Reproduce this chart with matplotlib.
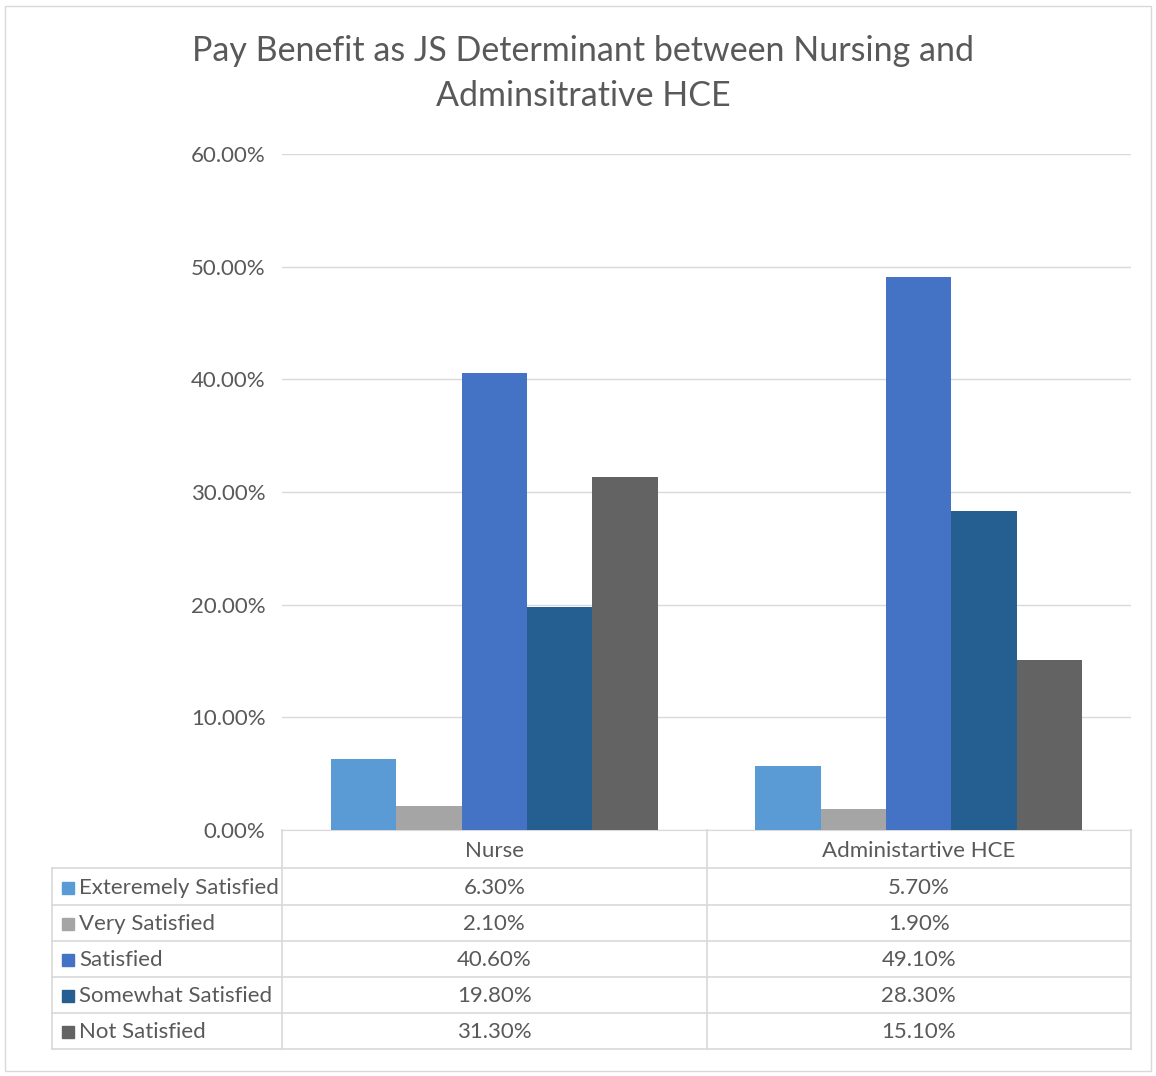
import matplotlib.pyplot as plt
import numpy as np
from matplotlib.patches import Rectangle
from matplotlib.lines import Line2D

plt.rcParams['font.family'] = ['Lato', 'DejaVu Sans']

categories = ['Nurse', 'Administartive HCE']
series = ['Exteremely Satisfied', 'Very Satisfied', 'Satisfied',
          'Somewhat Satisfied', 'Not Satisfied']
values = [
    [6.3, 5.7],
    [2.1, 1.9],
    [40.6, 49.1],
    [19.8, 28.3],
    [31.3, 15.1],
]
colors = ['#5B9BD5', '#A5A5A5', '#4472C4', '#255E91', '#636363']
yticks = [0, 10, 20, 30, 40, 50, 60]

W, H = 1156, 1076
text_color = '#595959'
grid_color = '#D9D9D9'

fig = plt.figure(figsize=(W / 100, H / 100), dpi=100)

# outer chart border
fig.add_artist(Rectangle((5 / W, 1 - 1071 / H), 1146 / W, 1065 / H,
                         transform=fig.transFigure, fill=False,
                         edgecolor=grid_color, lw=1))

# plot area in pixel bounds
left, right, top, bottom = 282, 1131, 154, 830
ax = fig.add_axes([left / W, 1 - bottom / H, (right - left) / W, (bottom - top) / H])

n = len(series)
gap = 1.5
bw = 1 / (n + gap)
x = np.arange(len(categories))
for i, (name, vals) in enumerate(zip(series, values)):
    offs = (i - (n - 1) / 2) * bw
    ax.bar(x + offs, vals, width=bw, color=colors[i], zorder=3)

ax.set_xlim(-0.5, len(categories) - 0.5)
ax.set_ylim(0, 60)
ax.set_yticks(yticks)
ax.set_yticklabels([f'{t:.2f}%' for t in yticks], fontsize=16, color=text_color)
ax.set_xticks([])
ax.tick_params(axis='y', length=0, pad=12)
ax.grid(axis='y', color=grid_color, lw=1, zorder=0)
for s in ['top', 'right', 'left']:
    ax.spines[s].set_visible(False)
ax.spines['bottom'].set_color(grid_color)

fig.text(583 / W, 1 - 51 / H, 'Pay Benefit as JS Determinant between Nursing and',
         ha='center', va='center', fontsize=24.5, color=text_color)
fig.text(583 / W, 1 - 96 / H, 'Adminsitrative HCE',
         ha='center', va='center', fontsize=24.5, color=text_color)

# data table below the plot
tab_left, tab_bottom = 52, 1049
tax = fig.add_axes([tab_left / W, 1 - tab_bottom / H, (right - tab_left) / W, (tab_bottom - bottom) / H])
tax.set_xlim(tab_left, right)
tax.set_ylim(tab_bottom, bottom)
tax.axis('off')

mid = (left + right) / 2
col_edges = [left, mid, right]
row_edges = [bottom, 868, 905, 941, 977, 1013, tab_bottom]

kw = dict(color=grid_color, lw=1.2, clip_on=False)
for xe in col_edges:
    tax.add_line(Line2D([xe, xe], [bottom, tab_bottom], **kw))
tax.add_line(Line2D([tab_left, tab_left], [row_edges[1], tab_bottom], **kw))
for ye in row_edges[1:]:
    tax.add_line(Line2D([tab_left, right], [ye, ye], **kw))

for j, cat in enumerate(categories):
    cx = (col_edges[j] + col_edges[j + 1]) / 2
    tax.text(cx, (row_edges[0] + row_edges[1]) / 2 + 2, cat, ha='center', va='center',
             fontsize=16, color=text_color)

for i, name in enumerate(series):
    cy = (row_edges[i + 1] + row_edges[i + 2]) / 2 + 1
    tax.add_patch(Rectangle((62, cy - 6), 12, 12, color=colors[i], clip_on=False))
    tax.text(79, cy, name, ha='left', va='center', fontsize=16, color=text_color)
    for j in range(len(categories)):
        cx = (col_edges[j] + col_edges[j + 1]) / 2
        tax.text(cx, cy, f'{values[i][j]:.2f}%', ha='center', va='center',
                 fontsize=16, color=text_color)

fig.savefig('out.png', dpi=100)
